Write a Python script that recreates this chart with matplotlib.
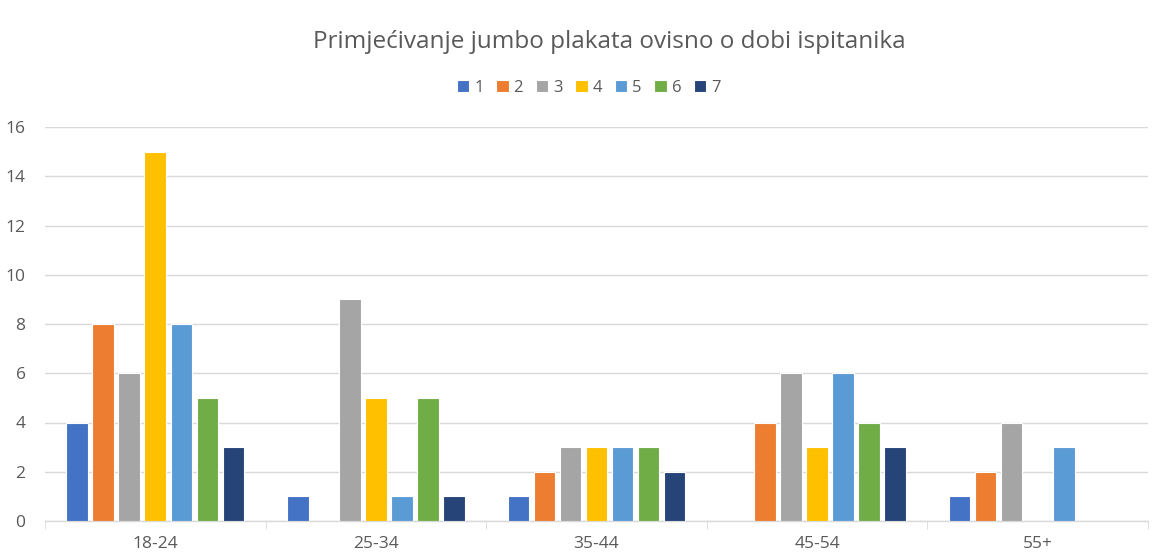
import numpy as np
import matplotlib.pyplot as plt

# age groups and answers 1-7
categories = ['18-24', '25-34', '35-44', '45-54', '55+']
series_names = ['1', '2', '3', '4', '5', '6', '7']
values = [
    [4, 1, 1, 0, 1],
    [8, 0, 2, 4, 2],
    [6, 9, 3, 6, 4],
    [15, 5, 3, 3, 0],
    [8, 1, 3, 6, 3],
    [5, 5, 3, 4, 0],
    [3, 1, 2, 3, 0],
]
colors = ['#4472C4', '#ED7D31', '#A5A5A5', '#FFC000', '#5B9BD5', '#70AD47', '#264478']

plt.rcParams['font.family'] = ['Open Sans', 'DejaVu Sans']

fig = plt.figure(figsize=(11.59, 5.55), dpi=100)
ax = fig.add_axes([45 / 1159, 1 - 521 / 555, 1103 / 1159, 394 / 555])

x = np.arange(len(categories))
step = 0.118
width = 0.098
for i, (name, vals) in enumerate(zip(series_names, values)):
    offs = (i - 3) * step
    ax.bar(x + offs, vals, width, color=colors[i], label=name,
           edgecolor='white', linewidth=0.8, zorder=3)

ax.set_xlim(-0.5, len(categories) - 0.5)
ax.set_ylim(0, 16)
ax.set_yticks(range(0, 17, 2))
ax.grid(axis='y', color='#D9D9D9', linewidth=1, zorder=0)
for s in ['top', 'right', 'left']:
    ax.spines[s].set_visible(False)
ax.spines['bottom'].set_color('#D9D9D9')
ax.spines['bottom'].set_linewidth(1)

ax.set_xticks(x)
ax.set_xticklabels(categories)
ax.set_xticks(np.arange(-0.5, len(categories), 1), minor=True)
ax.tick_params(axis='x', which='major', length=0, pad=11, labelsize=12.5, labelcolor='#595959')
ax.tick_params(axis='x', which='minor', length=6, color='#D9D9D9')
ax.tick_params(axis='y', length=0, pad=14, labelsize=12.5, labelcolor='#595959')

fig.text(0.526, 1 - 42 / 555, 'Primjećivanje jumbo plakata ovisno o dobi ispitanika',
         ha='center', va='center', fontsize=17.5, color='#595959')
fig.legend(loc='center', bbox_to_anchor=(0.508, 1 - 88 / 555), ncol=7, frameon=False,
           fontsize=12, handlelength=0.75, handleheight=0.75, handletextpad=0.3,
           columnspacing=0.75, labelcolor='#595959')

fig.savefig('out.png', dpi=100)
